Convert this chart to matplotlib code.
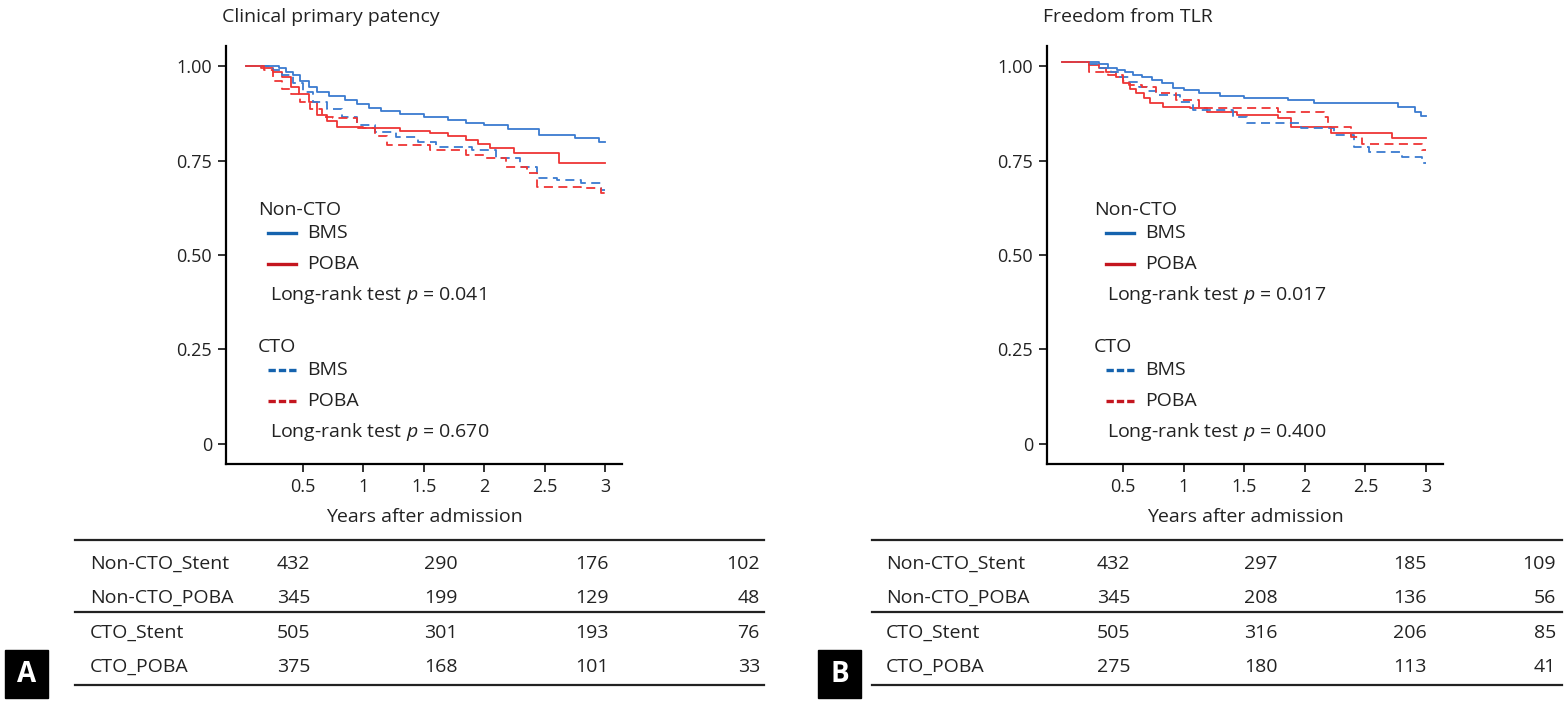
import matplotlib
matplotlib.use("Agg")
import matplotlib.pyplot as plt
from matplotlib.lines import Line2D
from matplotlib.patches import Rectangle

plt.rcParams['font.family'] = ['Open Sans', 'DejaVu Sans']
plt.rcParams['mathtext.fontset'] = 'custom'
plt.rcParams['mathtext.it'] = 'Open Sans:italic'
plt.rcParams['mathtext.rm'] = 'Open Sans'

# ---- panel A: clinical primary patency (step curves)
a_ncto_bms_t = [0.03, 0.30, 0.36, 0.42, 0.48, 0.55, 0.62, 0.72, 0.85, 0.95, 1.05, 1.15, 1.30, 1.50, 1.70, 1.85, 2.00, 2.20, 2.45, 2.75, 2.95, 3.00]
a_ncto_bms_s = [1.00, 0.995, 0.985, 0.975, 0.96, 0.945, 0.93, 0.92, 0.91, 0.90, 0.89, 0.88, 0.872, 0.866, 0.857, 0.85, 0.844, 0.833, 0.817, 0.809, 0.80, 0.80]
a_ncto_poba_t = [0.03, 0.15, 0.25, 0.33, 0.40, 0.47, 0.55, 0.62, 0.70, 0.78, 1.00, 1.30, 1.55, 1.70, 1.85, 1.95, 2.05, 2.25, 2.62, 3.00]
a_ncto_poba_s = [1.00, 0.995, 0.985, 0.97, 0.945, 0.925, 0.905, 0.87, 0.855, 0.84, 0.835, 0.829, 0.822, 0.815, 0.805, 0.793, 0.783, 0.770, 0.743, 0.743]
a_cto_bms_t = [0.03, 0.25, 0.33, 0.42, 0.50, 0.58, 0.70, 0.82, 0.95, 1.10, 1.27, 1.45, 1.60, 1.90, 2.10, 2.30, 2.44, 2.60, 2.80, 2.97, 3.00]
a_cto_bms_s = [1.00, 0.99, 0.975, 0.955, 0.93, 0.905, 0.885, 0.865, 0.845, 0.826, 0.813, 0.80, 0.787, 0.778, 0.756, 0.734, 0.704, 0.698, 0.690, 0.672, 0.672]
a_cto_poba_t = [0.03, 0.18, 0.25, 0.33, 0.40, 0.48, 0.56, 0.66, 0.75, 0.95, 1.10, 1.20, 1.55, 1.85, 2.00, 2.18, 2.35, 2.44, 2.80, 2.97, 3.00]
a_cto_poba_s = [1.00, 0.99, 0.96, 0.94, 0.925, 0.905, 0.885, 0.866, 0.862, 0.835, 0.815, 0.791, 0.778, 0.765, 0.756, 0.734, 0.717, 0.681, 0.677, 0.664, 0.664]

# ---- panel B: freedom from TLR
b_ncto_bms_t = [0.00, 0.30, 0.38, 0.45, 0.52, 0.58, 0.66, 0.74, 0.82, 0.91, 1.00, 1.13, 1.30, 1.50, 1.86, 2.08, 2.77, 2.91, 2.96, 3.00]
b_ncto_bms_s = [1.01, 1.005, 0.996, 0.99, 0.983, 0.976, 0.97, 0.962, 0.955, 0.942, 0.936, 0.928, 0.92, 0.915, 0.91, 0.902, 0.892, 0.879, 0.868, 0.868]
b_ncto_poba_t = [0.00, 0.22, 0.30, 0.36, 0.44, 0.50, 0.56, 0.61, 0.67, 0.72, 0.83, 1.05, 1.19, 1.44, 1.78, 1.89, 2.22, 2.72, 3.00]
b_ncto_poba_s = [1.01, 1.003, 0.995, 0.985, 0.97, 0.955, 0.94, 0.928, 0.915, 0.902, 0.892, 0.889, 0.879, 0.870, 0.862, 0.839, 0.823, 0.810, 0.810]
b_cto_bms_t = [0.00, 0.19, 0.30, 0.40, 0.47, 0.55, 0.63, 0.70, 0.77, 0.97, 1.08, 1.41, 1.52, 1.97, 2.24, 2.41, 2.53, 2.80, 2.97, 3.00]
b_cto_bms_s = [1.01, 1.005, 0.994, 0.985, 0.972, 0.958, 0.945, 0.935, 0.923, 0.906, 0.884, 0.866, 0.848, 0.835, 0.817, 0.787, 0.773, 0.760, 0.743, 0.743]
b_cto_poba_t = [0.00, 0.22, 0.38, 0.50, 0.55, 0.66, 0.77, 0.94, 1.13, 1.78, 2.16, 2.19, 2.38, 2.47, 2.97, 3.00]
b_cto_poba_s = [1.01, 0.985, 0.976, 0.96, 0.95, 0.945, 0.928, 0.91, 0.889, 0.879, 0.866, 0.839, 0.813, 0.794, 0.778, 0.778]

titles = ['Clinical primary patency', 'Freedom from TLR']
pvals_a = ['0.041', '0.670']
pvals_b = ['0.017', '0.400']
xticks = [0.5, 1, 1.5, 2, 2.5, 3]
xticklabels = ['0.5', '1', '1.5', '2', '2.5', '3']
yticks = [0, 0.25, 0.5, 0.75, 1.0]
yticklabels = ['0', '0.25', '0.50', '0.75', '1.00']

groups = ['Non-CTO_Stent', 'Non-CTO_POBA', 'CTO_Stent', 'CTO_POBA']
risk_a = [[432, 290, 176, 102], [345, 199, 129, 48], [505, 301, 193, 76], [375, 168, 101, 33]]
risk_b = [[432, 297, 185, 109], [345, 208, 136, 56], [505, 316, 206, 85], [275, 180, 113, 41]]

curve_blue = '#3a7bd0'
curve_red = '#ee3535'
leg_blue = '#1563ae'
leg_red = '#c4161f'
ink = '#222222'
W, H = 1568, 704

fig = plt.figure(figsize=(15.68, 7.04), dpi=100)


def px(x, y):
    return x / W, 1 - y / H


def make_panel(left_px, x0, curves, title, pvals, risk, letter, tab):
    axl, axb = px(left_px, 464)
    ax = fig.add_axes([axl, axb, 396 / W, 418 / H])
    for t, s, col, ls in curves:
        ax.step(t, s, where='post', color=col, lw=1.3, ls=ls)
    ax.set_xlim(x0, 3.14)
    ax.set_ylim(-0.053, 1.053)
    ax.set_xticks(xticks)
    ax.set_xticklabels(xticklabels)
    ax.set_yticks(yticks)
    ax.set_yticklabels(yticklabels)
    for sp in ['top', 'right']:
        ax.spines[sp].set_visible(False)
    for sp in ['left', 'bottom']:
        ax.spines[sp].set_linewidth(1.6)
    ax.tick_params(labelsize=13, width=1.3, length=6, colors=ink, pad=4)
    ax.set_xlabel('Years after admission', fontsize=14, color=ink, labelpad=9)
    ax.text(-0.01, 1.069, title, transform=ax.transAxes, fontsize=14, color=ink, va='center')

    # custom legend
    lx, hx = tab
    fs = 14
    for base, head, pv, ls in [(0.0, 'Non-CTO', pvals[0], '-'), (-0.328, 'CTO', pvals[1], (0, (2.2, 0.9)))]:
        ax.text(lx, 0.608 + base, head, transform=ax.transAxes, fontsize=fs, va='center', color=ink)
        for dy, col, lab in [(0.553, leg_blue, 'BMS'), (0.478, leg_red, 'POBA')]:
            ax.add_line(Line2D([hx, hx + 0.072], [dy + base, dy + base], transform=ax.transAxes,
                               color=col, lw=2.4, ls=ls))
            ax.text(hx + 0.1, dy + base, lab, transform=ax.transAxes, fontsize=fs, va='center', color=ink)
        ax.text(hx + 0.004, 0.404 + base, 'Long-rank test $p$ = ' + pv, transform=ax.transAxes,
                fontsize=fs, va='center', color=ink)

    # number at risk table
    tl, tr, labx, cols = letter[1], letter[2], letter[3], letter[4]
    for yl in [540, 612, 685]:
        fig.add_artist(Line2D([tl / W, tr / W], [1 - yl / H, 1 - yl / H], color=ink, lw=1.6))
    for i, (g, row) in enumerate(zip(groups, risk)):
        yy = 1 - [564, 598, 633, 667][i] / H
        fig.text(labx / W, yy, g, fontsize=14, va='center', color=ink)
        for j, v in enumerate(row):
            ha = 'right' if j == 3 else 'left'
            fig.text(cols[j] / W, yy, str(v), fontsize=14, va='center', ha=ha, color=ink)

    bx = letter[5]
    fig.add_artist(Rectangle(px(bx, 698), 43 / W, 48 / H, color='black'))
    fig.text((bx + 21.5) / W, 1 - 674 / H, letter[0], color='white', fontsize=20, fontweight='bold',
             ha='center', va='center')
    return ax


dash = (0, (5, 3))
curves_a = [(a_ncto_bms_t, a_ncto_bms_s, curve_blue, '-'), (a_ncto_poba_t, a_ncto_poba_s, curve_red, '-'),
            (a_cto_bms_t, a_cto_bms_s, curve_blue, dash), (a_cto_poba_t, a_cto_poba_s, curve_red, dash)]
curves_b = [(b_ncto_bms_t, b_ncto_bms_s, curve_blue, '-'), (b_ncto_poba_t, b_ncto_poba_s, curve_red, '-'),
            (b_cto_bms_t, b_cto_bms_s, curve_blue, dash), (b_cto_poba_t, b_cto_poba_s, curve_red, dash)]

make_panel(226, -0.136, curves_a, titles[0], pvals_a, risk_a,
           ('A', 75, 764, 90, [277, 424, 575, 760], 5), (0.081, 0.106))
make_panel(1047, -0.126, curves_b, titles[1], pvals_b, risk_b,
           ('B', 872, 1562, 886, [1097, 1244, 1393, 1556], 818), (0.119, 0.148))

fig.savefig('out.png', dpi=100)
